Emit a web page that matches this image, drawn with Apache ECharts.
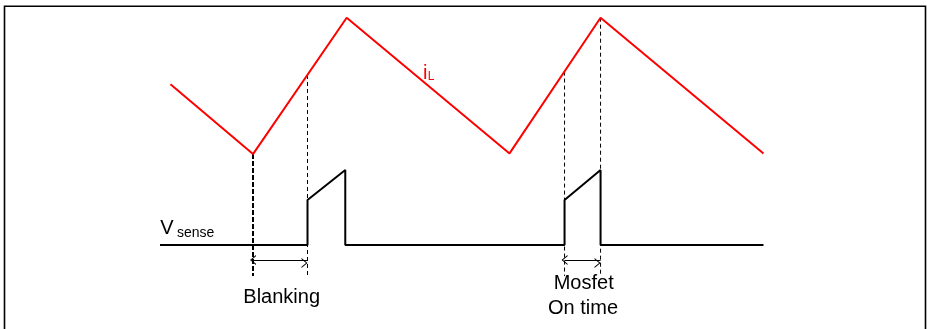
<!DOCTYPE html>
<html>
<head>
<meta charset="utf-8">
<script src="https://cdn.jsdelivr.net/npm/echarts@6/dist/echarts.min.js"></script>
<style>
  html, body { margin: 0; padding: 0; background: #fff; }
  #chart { width: 927px; height: 329px; }
</style>
</head>
<body>
<div id="chart"></div>
<script>
// ---- data (time units on x, arbitrary amplitude units on y) ----
// Inductor current i_L (red triangle wave)
const iLTime  = [1.04, 9.246, 18.56, 34.75, 43.80, 60];
const iLValue = [70.7, 40.0, 100.0, 40.3, 100.0, 40.3];

// Sense voltage V_sense (black pulse train)
const vsTime  = [0, 14.665, 14.665, 18.42, 18.42, 40.22, 40.22, 43.80, 43.80, 60];
const vsValue = [0, 0, 19.8, 33.0, 0, 0, 19.8, 33.0, 0, 0];

// Vertical dashed markers: x position, top value, bottom value
const markerTime   = [9.246, 14.665, 40.22, 43.80];
const markerTop    = [40.0, 74.8, 76.3, 100.0];
const markerBottom = [-13.6, -13.6, -13.6, -13.6];
const markerWidth  = [2, 1, 1, 1];

// Double-headed interval arrows: [start, end] time, at level
const arrowStart = [9.246, 40.22];
const arrowEnd   = [14.665, 43.80];
const arrowLevel = -6.6;

// Text labels
const labelBlanking = 'Blanking';
const labelMosfet   = ['Mosfet', 'On time'];

// ---- build ----
const FONT = "'Liberation Sans', Arial, Helvetica, sans-serif";
const zip = (a, b) => a.map((v, i) => [v, b[i]]);

const chevron = 'path://M0,10 L5,0 L10,10 L8.8,10 L5,2.4 L1.2,10 Z';

const series = [
  {
    name: 'iL', type: 'line', data: zip(iLTime, iLValue),
    symbol: 'none', silent: true,
    lineStyle: { color: '#ff0000', width: 2 }
  },
  {
    name: 'Vsense', type: 'line', data: zip(vsTime, vsValue),
    symbol: 'none', silent: true,
    lineStyle: { color: '#000000', width: 2 },
    markLine: {
      silent: true,
      symbol: [chevron, chevron],
      symbolSize: [10, 6],
      symbolOffset: [0, 3],
      label: { show: false },
      lineStyle: { color: '#000', width: 1, type: 'solid' },
      data: arrowStart.map((s, i) => [
        { coord: [s, arrowLevel] },
        { coord: [arrowEnd[i], arrowLevel] }
      ])
    }
  }
];

markerTime.forEach((t, i) => {
  series.push({
    type: 'line', symbol: 'none', silent: true,
    data: [[t, markerTop[i]], [t, markerBottom[i]]],
    lineStyle: { color: '#000', width: markerWidth[i], type: i === 0 ? [5, 2] : [4, 3] },
    z: 1
  });
});

const txt = (text, x, y, size, color, align) => ({
  type: 'text', x: x, y: y, silent: true,
  style: {
    text: text, fill: color, font: size + 'px ' + FONT,
    textAlign: align || 'center', textVerticalAlign: 'middle', verticalAlign: 'middle'
  }
});

const option = {
  animation: false,
  backgroundColor: '#ffffff',
  grid: { left: 160, top: 17.7, width: 603.5, height: 272.8, show: false },
  xAxis: { type: 'value', min: 0, max: 60, show: false, splitLine: { show: false } },
  yAxis: { type: 'value', min: -20, max: 100, show: false, splitLine: { show: false } },
  series: series,
  graphic: [
    {
      type: 'polyline', silent: true,
      shape: { points: [[4.5, 329], [4.5, 6.3], [925.5, 6.3], [925.5, 329]] },
      style: { stroke: '#000', lineWidth: 1.6, fill: null }
    },
    txt('i', 423, 73.1, 20, '#ff0000', 'left'),
    txt('L', 427.8, 76.8, 12, '#ff0000', 'left'),
    txt('V', 160.3, 228.8, 20, '#000', 'left'),
    txt('sense', 177, 232.8, 14, '#000', 'left'),
    txt(labelBlanking, 281.7, 297.4, 20, '#000'),
    txt(labelMosfet[0], 583.7, 283.8, 20, '#000'),
    txt(labelMosfet[1], 583.0, 308.1, 20, '#000')
  ]
};

const chart = echarts.init(document.getElementById('chart'), null, { renderer: 'canvas' });
chart.setOption(option);
</script>
</body>
</html>
